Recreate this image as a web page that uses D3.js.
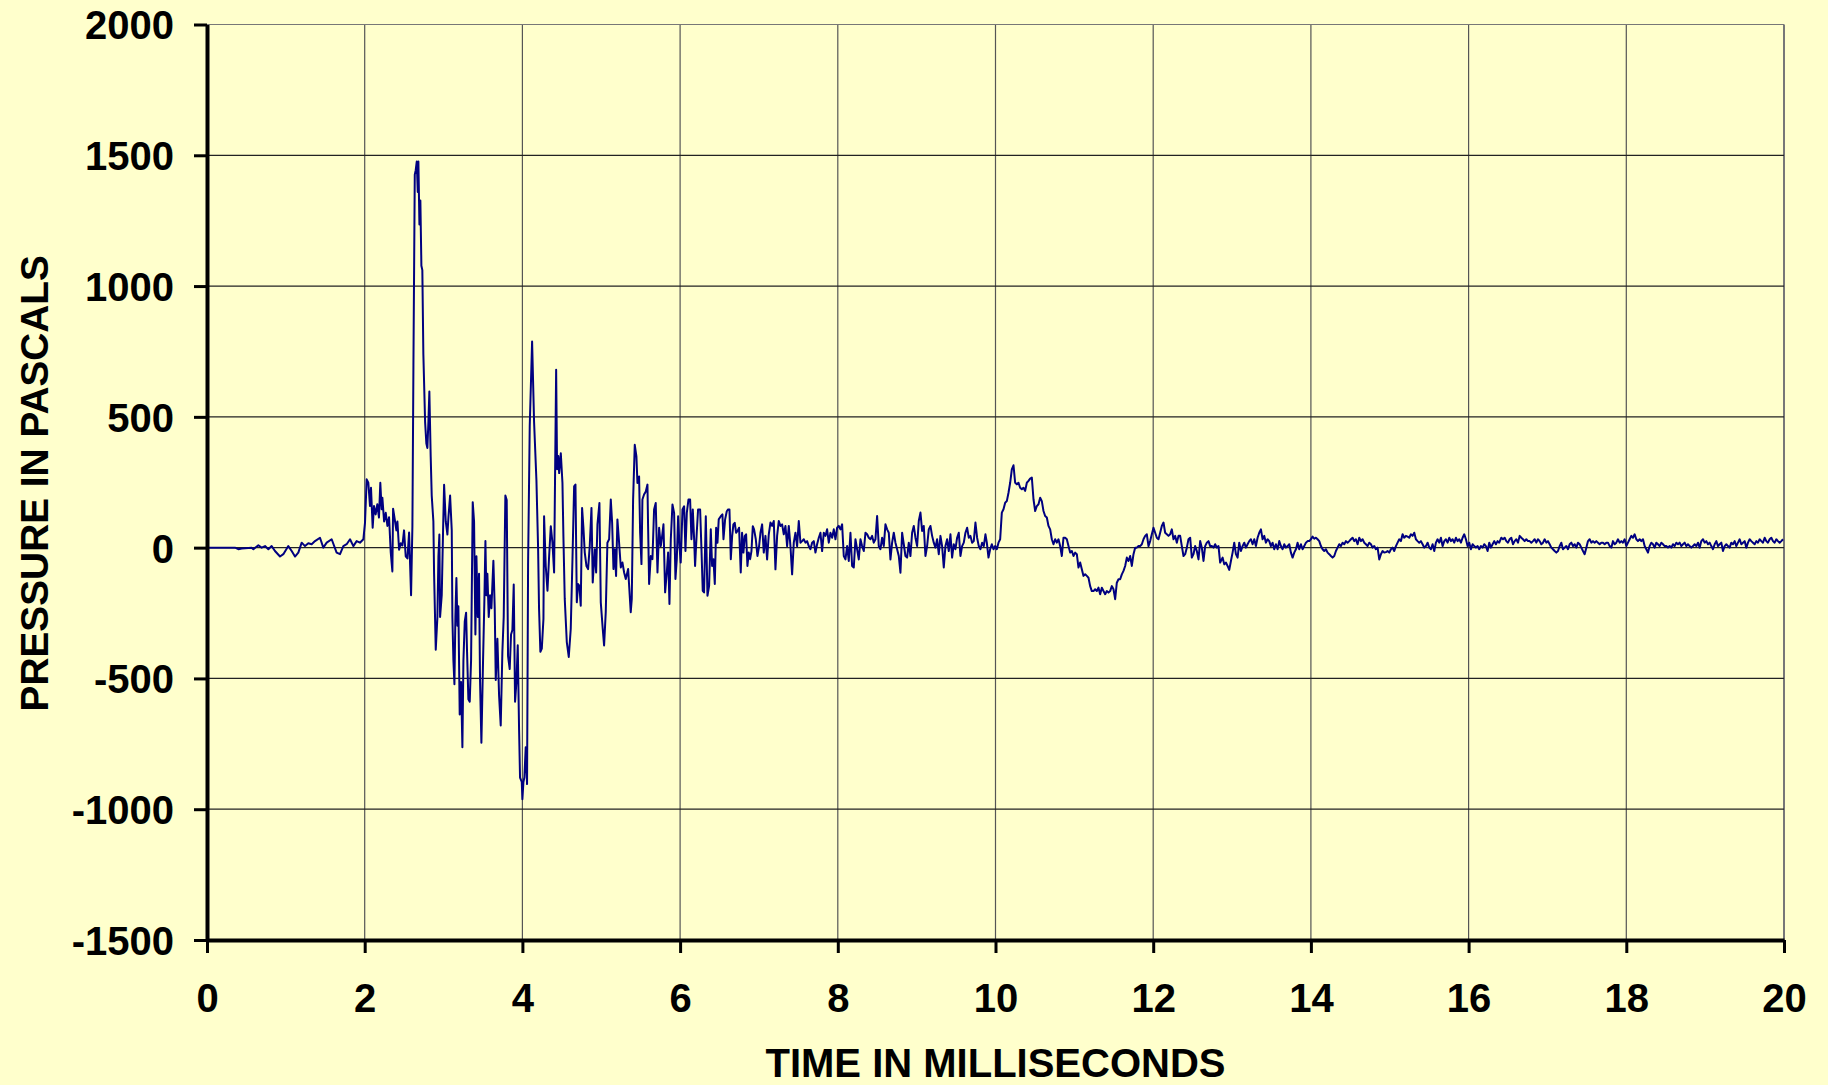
<!DOCTYPE html>
<html><head><meta charset="utf-8">
<script src="https://cdn.jsdelivr.net/npm/d3@7"></script>
<style>html,body{margin:0;padding:0;background:#FFFFCC;}svg{display:block;}</style>
</head><body>
<svg id="chart" width="1828" height="1085"></svg>
<script>
// ---- data ----
const xTickValues = [0,2,4,6,8,10,12,14,16,18,20];
const yTickValues = [-1500,-1000,-500,0,500,1000,1500,2000];
const xTitle = "TIME IN MILLISECONDS";
const yTitle = "PRESSURE IN PASCALS";

// irregularly read part of the trace: time (ms) and pressure (Pa)
const earlyTimesMs = [
0,0.355,0.397,0.440,0.566,0.588,0.651,0.693,0.736,0.778,0.820,0.862,0.926,0.968,1.031,1.074,1.116,1.158,1.201,1.243,1.285,1.327,1.370,1.433,1.475,1.518,1.581,1.644,1.687,1.729,1.771,1.814,1.856,1.898,1.940,1.983,
2.004,2.025,2.046,2.067,2.080,2.101,2.118,2.139,2.160,2.181,2.198,2.215,2.224,2.246,2.267,2.288,2.309,2.330,2.351,2.360,2.385,2.402,2.415,2.436,2.457,2.478,2.499,2.520,2.542,2.563,2.588,2.605,2.618,2.635,2.647,2.660,2.673,2.681,2.694,2.706,2.719,2.731,2.744,2.766,2.782,2.795,2.808,2.820,2.837,2.850,2.871,2.880,2.901,2.922,2.935,2.947,2.956,2.977,2.994,
3.007,3.028,3.049,3.062,3.083,3.104,3.112,3.125,3.138,3.150,3.163,3.176,3.188,3.205,3.222,3.239,3.252,3.269,3.286,3.298,3.315,3.332,3.349,3.370,3.387,3.404,3.417,3.434,3.450,3.463,3.480,3.501,3.518,3.531,3.543,3.556,3.573,3.590,3.607,3.632,3.649,3.662,3.683,3.704,3.725,3.746,3.763,3.784,3.801,3.818,3.839,3.856,3.873,3.890,3.907,3.924,3.941,3.958,3.970,3.992,
4.000,4.013,4.025,4.042,4.059,4.072,4.093,4.123,4.148,4.178,4.199,4.211,4.228,4.246,4.267,4.275,4.296,4.318,4.339,4.360,4.381,4.402,4.428,4.440,4.455,4.466,4.487,4.508,4.520,
4.537,4.563,4.588,4.613,4.635,4.656,4.673,4.690,4.706,4.723,4.740,4.757,4.774,4.791,4.812,4.833,4.854,4.876,4.892,4.918,4.935,4.952,4.977,4.994,
5.019,5.036,5.057,5.078,5.100,5.121,5.138,5.155,5.171,5.188,5.205,5.222,5.248,5.269,5.290,5.311,5.341,5.374,5.387,5.404,5.425,5.446,5.459,5.480,5.493,5.510,5.522,5.543,5.565,5.586,5.594,5.607,5.628,5.649,5.670,5.691,5.713,5.734,5.755,5.772,5.789,5.810,5.831,5.848,5.865,5.882,5.903,5.924,5.941,5.958,5.975,5.992,
6.008,6.030,6.051,6.068,6.085,6.106,6.127,6.144,6.161,6.178,6.190,6.211,6.228,6.254,6.271,6.287,6.304,6.326,6.347,6.368,6.389,6.406,6.423,6.440,6.457,6.474,6.490,6.516,6.537,6.550,6.571,6.592,6.609,6.626,6.643,6.660,6.676,6.693,6.710,6.727,6.748,6.769,6.786,6.803,6.820,6.837,6.854,6.871,6.888,6.905,6.922,6.938,6.960,6.981,7.002
];
const earlyPressuresPa = [
0,0,-6,-3,0,-6,9,0,6,-6,6,-13,-34,-25,6,-13,-34,-19,19,6,17,13,25,38,0,19,32,-19,-25,6,13,32,6,25,19,32,
96,261,248,159,229,76,159,127,166,115,248,147,191,100,133,83,116,-17,-91,149,100,66,100,-8,17,8,66,-33,-41,58,-182,83,697,1426,1443,1476,1360,1476,1235,1327,1078,1061,738,481,398,381,481,597,348,199,100,-100,-390,-265,-33,50,-265,-182,66,
240,100,50,116,199,66,-265,-431,-522,-265,-116,-299,-224,-638,-514,-763,-431,-282,-249,-398,-580,-589,-431,174,100,-332,-33,-265,-100,-514,-746,-431,-199,25,-182,-100,-265,-182,-232,-50,-232,-506,-348,-564,-680,-398,-265,199,182,-415,-464,-332,-315,-141,-589,-514,-373,-697,-879,-896,
-962,-896,-879,-763,-904,-66,464,788,481,257,0,-232,-398,-386,-272,120,-70,-165,-32,82,19,-95,680,300,350,285,361,247,44,
-196,-361,-418,-311,-44,234,241,-209,-139,-146,-222,152,76,-19,-70,-82,6,152,-133,-6,-95,89,171,-209,
-311,-374,-247,19,32,184,95,-82,-6,-108,108,38,-76,-57,-95,-120,-82,-247,-196,184,393,349,247,272,57,-63,184,203,215,241,82,-139,-32,-44,146,171,-95,76,6,44,89,-171,-95,-19,-215,32,165,133,-120,-44,120,6,
-57,146,158,-13,133,184,184,32,146,32,-70,57,146,146,-6,-165,-171,120,-184,-146,70,-70,-44,-139,76,19,108,120,127,32,108,139,146,146,-44,44,89,95,57,63,76,-95,57,-19,44,51,-70,-19,-44,-13,82,70,32,-32,6
];

// evenly sampled later parts of the trace
const sampleIntervalMs = 0.021137;
const segmentStartsMs = [7.019, 9.890, 12.880, 16.415];
const segment1Pa = [
57,89,-19,45,-45,51,96,83,102,-83,45,102,83,89,51,83,6,83,6,-102,
19,57,6,102,19,25,32,19,25,6,-6,19,25,-19,13,38,57,-13,57,45,
70,19,57,38,70,32,76,83,70,89,-32,-45,6,-51,57,-70,-76,32,-6,-45,
32,6,-13,57,51,38,32,45,19,32,121,6,-6,38,6,89,70,57,-45,19,
57,19,-6,-32,-96,57,13,-32,-38,19,-32,57,83,38,6,102,134,64,83,-32,
6,70,83,45,19,0,32,-25,45,6,-76,6,32,-13,51,-38,13,-6,38,57,
-32,6,19,57,76,38,45,19,25,96,38,6,-6,19,6,51
];
const segment2Pa = [
19,-38,-6,13,-6,6,-6,19,32,134,147,172,178,210,248,299,315,248,242,248,
229,223,229,217,248,255,264,268,185,140,159,166,191,178,140,121,115,83,70,32,
13,32,19,32,6,-32,38,38,32,6,-19,-13,-32,-19,-25,-76,-57,-83,-108,-102,
-108,-115,-147,-166,-166,-159,-166,-153,-178,-153,-166,-178,-166,-172,-166,-147,-159,-197,-134,-121,
-121,-102,-89,-70,-38,-51,-32,-70,-25,0,0,6,6,13,32,45,51,6,25,51,
76,57,38,32,57,83,96,57,51,45,51,70,32,45,19,45,45,6,-32,-25,
0,32,38,-38,-25,6,-13,-45,25,0,-51,6,19,25,6,6,0,13,0,6,-57
];
const segment3Pa = [
-38,-64,-57,-70,-85,-51,-19,19,-25,-38,19,-13,6,19,0,13,25,32,13,32,
6,38,57,70,32,45,19,32,25,6,19,-6,13,-6,25,6,-6,13,0,6,
13,-19,-38,-19,-6,19,-6,13,-6,6,19,25,25,32,42,34,38,32,25,6,
-6,-13,-6,-19,-25,-32,-38,-32,-13,0,13,6,19,13,25,19,25,32,38,25,
32,13,38,25,32,19,13,6,19,13,0,6,-6,0,-45,-25,-13,-19,-17,-13,
-19,-6,0,-13,6,19,32,25,51,38,45,42,38,51,45,57,32,25,19,25,
13,0,6,19,0,-6,13,-13,19,32,19,38,6,25,32,19,38,25,32,19,
38,25,32,19,38,51,32,6,19,-6,13,6,0,6,-6,6,0,13,6,-13,
19,0,13,25,13,25,19
];
const segment4Pa = [
38,32,38,25,19,32,38,13,25,32,19,45,38,32,25,32,25,25,19,25,
32,19,32,25,13,19,32,19,25,13,0,-6,-13,-19,-13,6,19,-6,0,6,
-6,13,19,6,13,0,19,13,0,-13,-25,0,25,32,19,25,19,25,19,13,
19,19,13,19,19,6,0,25,13,19,32,19,25,19,32,6,19,32,45,38,
51,32,25,32,25,32,6,-6,-19,6,19,13,0,19,13,6,19,13,6,6,
0,6,0,13,6,19,13,19,6,13,19,6,13,6,0,6,13,6,19,0,
25,32,19,25,13,19,6,-6,13,25,6,13,19,-13,6,13,6,0,19,13,
25,6,19,32,13,19,25,0,19,32,25,19,13,25,19,32,25,19,38,25,
19,32,38,25,19,32,25,19,25,32
];

// ---- build series ----
const series = earlyTimesMs.map((t, i) => ({t, p: earlyPressuresPa[i]}));
[segment1Pa, segment2Pa, segment3Pa, segment4Pa].forEach((seg, s) => {
  seg.forEach((p, k) => series.push({t: segmentStartsMs[s] + k * sampleIntervalMs, p}));
});

// ---- drawing ----
const svg = d3.select("#chart");
const FONT = "'Liberation Sans', Arial, Helvetica, sans-serif";
const FS = "40px";
svg.append("rect").attr("width", 1828).attr("height", 1085).attr("fill", "#FFFFCC");

const x = d3.scaleLinear().domain([0, 20]).range([207, 1784]);
const y = d3.scaleLinear().domain([-1500, 2000]).range([940, 24.5]);

const grid = svg.append("g");
grid.selectAll("line.v").data(xTickValues.filter(d => d > 0)).join("line")
  .attr("x1", d => x(d)).attr("x2", d => x(d))
  .attr("y1", y(-1500)).attr("y2", y(2000))
  .attr("stroke", d => d === 20 ? "#777" : "#555").attr("stroke-width", d => d === 20 ? 2 : 1.2);
grid.selectAll("line.h").data(yTickValues.filter(d => d > -1500)).join("line")
  .attr("x1", x(0)).attr("x2", x(20))
  .attr("y1", d => y(d)).attr("y2", d => y(d))
  .attr("stroke", d => d === 2000 ? "#777" : "#222").attr("stroke-width", 1.2);

const line = d3.line().x(d => x(d.t)).y(d => y(d.p));
svg.append("path").datum(series)
  .attr("d", line).attr("fill", "none")
  .attr("stroke", "#000080").attr("stroke-width", 2)
  .attr("stroke-linejoin", "round");

const plainFormat = d => String(d);
const yAxis = svg.append("g").attr("transform", `translate(${x(0)},0)`)
  .call(d3.axisLeft(y).tickValues(yTickValues).tickSize(13).tickSizeOuter(0).tickPadding(20).tickFormat(plainFormat));
const xAxis = svg.append("g").attr("transform", `translate(0,${y(-1500)})`)
  .call(d3.axisBottom(x).tickValues(xTickValues).tickSize(13).tickSizeOuter(0).tickPadding(31).tickFormat(plainFormat));

[yAxis, xAxis].forEach(a => {
  a.select(".domain").attr("stroke", "#000").attr("stroke-width", 4);
  a.selectAll(".tick line").attr("stroke", "#000").attr("stroke-width", 3);
  a.selectAll(".tick text").attr("fill", "#000")
    .style("font-family", FONT).style("font-weight", "bold").style("font-size", FS);
});
yAxis.selectAll(".tick text").attr("dy", "0.36em");

svg.append("text").text(xTitle)
  .attr("x", (x(0) + x(20)) / 2).attr("y", 1077)
  .attr("text-anchor", "middle").attr("fill", "#000")
  .style("font-family", FONT).style("font-weight", "bold").style("font-size", FS);
svg.append("text").text(yTitle)
  .attr("transform", `translate(48,${(y(-1500) + y(2000)) / 2 + 1}) rotate(-90)`)
  .attr("text-anchor", "middle").attr("fill", "#000")
  .style("font-family", FONT).style("font-weight", "bold").style("font-size", "38.8px");
</script>
</body></html>
